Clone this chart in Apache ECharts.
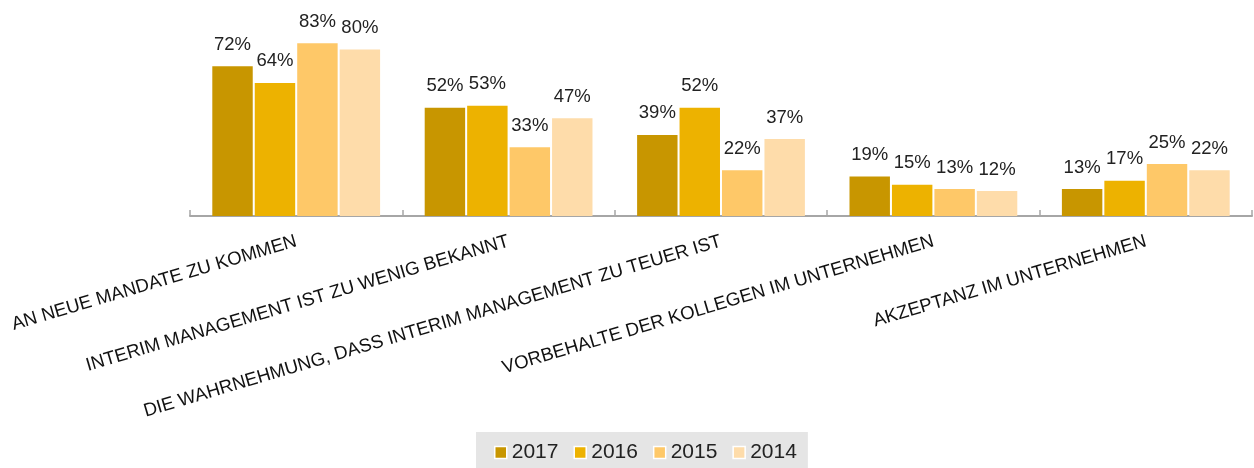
<!DOCTYPE html>
<html>
<head>
<meta charset="utf-8">
<script src="https://cdn.jsdelivr.net/npm/echarts@6/dist/echarts.min.js"></script>
<style>
html,body{margin:0;padding:0;background:#fff;}
#chart{width:1254px;height:468px;}
</style>
</head>
<body>
<div id="chart"></div>
<script>
const categories = [
  "AN NEUE MANDATE ZU KOMMEN",
  "INTERIM MANAGEMENT IST ZU WENIG BEKANNT",
  "DIE WAHRNEHMUNG, DASS INTERIM MANAGEMENT ZU TEUER IST",
  "VORBEHALTE DER KOLLEGEN IM UNTERNEHMEN",
  "AKZEPTANZ IM UNTERNEHMEN"
];
const seriesNames = ["2017", "2016", "2015", "2014"];
const values2017 = [72, 52, 39, 19, 13];
const values2016 = [64, 53, 52, 15, 17];
const values2015 = [83, 33, 22, 13, 25];
const values2014 = [80, 47, 37, 12, 22];
const colors = ["#C89600", "#EDB200", "#FEC868", "#FEDCAA"];

const allValues = [values2017, values2016, values2015, values2014];
const FONT = "Liberation Sans, Arial, Helvetica, sans-serif";

const chart = echarts.init(document.getElementById('chart'));
chart.setOption({
  animation: false,
  textStyle: { fontFamily: FONT },
  grid: { left: 190, right: 2, top: 8, bottom: 252, containLabel: false },
  legend: {
    left: 476, top: 432,
    backgroundColor: '#e5e5e5',
    padding: [10, 11, 10, 18],
    itemWidth: 12, itemHeight: 12, itemGap: 15,
    icon: 'rect',
    itemStyle: { borderColor: '#ffffff', borderWidth: 1.5 },
    textStyle: { fontSize: 21, color: '#222', fontFamily: FONT },
    data: seriesNames
  },
  xAxis: {
    type: 'category',
    data: categories,
    axisLine: { lineStyle: { color: '#a6a6a6', width: 2 } },
    axisTick: { show: true, inside: true, length: 6, lineStyle: { color: '#a6a6a6', width: 1.5 } },
    axisLabel: { rotate: 16.5, margin: 25, fontSize: 18.6, color: '#111', fontFamily: FONT, interval: 0 }
  },
  yAxis: {
    type: 'value', min: 0, max: 100,
    show: false,
    splitLine: { show: false }
  },
  series: seriesNames.map((name, i) => ({
    name: name,
    type: 'bar',
    data: allValues[i],
    barGap: '5%',
    barCategoryGap: '21%',
    itemStyle: { color: colors[i] },
    label: {
      show: true, position: 'top', distance: 12,
      formatter: '{c}%', fontSize: 18.5, color: '#222', fontFamily: FONT
    }
  }))
});
</script>
</body>
</html>
